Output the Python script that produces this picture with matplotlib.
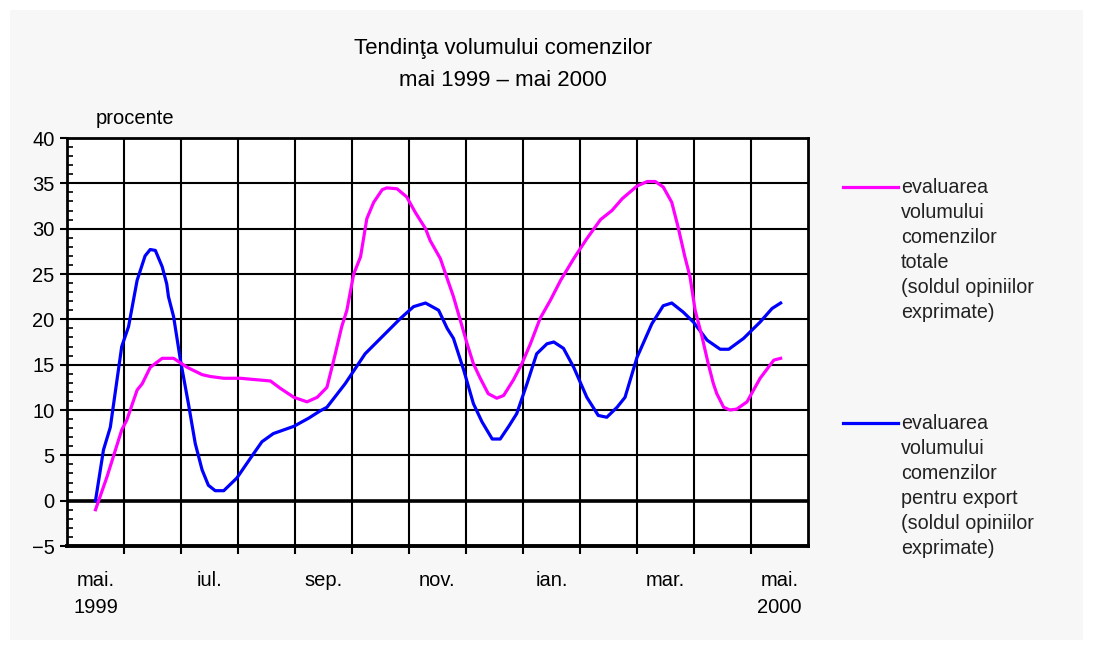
import numpy as np
import matplotlib
matplotlib.use('Agg')
import matplotlib.pyplot as plt
from matplotlib.patches import Rectangle
from matplotlib.lines import Line2D
from matplotlib.ticker import MultipleLocator, FixedLocator

# Data (x in months since mai 1999)
month_labels = ['mai.\n1999', 'iul.', 'sep.', 'nov.', 'ian.', 'mar.', 'mai.\n2000']
month_label_pos = [0, 2, 4, 6, 8, 10, 12]

total_x = [0.0, 0.2, 0.46, 0.55, 0.73, 0.82, 0.96, 1.17, 1.37, 1.61, 1.87, 2.01, 2.25, 2.54,
           3.07, 3.24, 3.48, 3.71, 3.89, 4.06, 4.18, 4.32, 4.41, 4.53, 4.65, 4.76, 4.88,
           5.03, 5.11, 5.29, 5.46, 5.61, 5.79, 5.87, 6.05, 6.17, 6.28, 6.4, 6.52, 6.63,
           6.75, 6.89, 7.04, 7.16, 7.33, 7.48, 7.63, 7.8, 7.98, 8.16, 8.39, 8.62, 8.86,
           9.06, 9.24, 9.5, 9.68, 9.82, 9.96, 10.11, 10.22, 10.34, 10.43, 10.52, 10.64,
           10.75, 10.84, 10.9, 11.02, 11.13, 11.25, 11.43, 11.66, 11.9, 12.02]
total_y = [-1.0, 2.6, 7.8, 8.9, 12.2, 12.9, 14.7, 15.7, 15.7, 14.7, 13.9, 13.7, 13.5, 13.5,
           13.2, 12.4, 11.4, 10.9, 11.4, 12.5, 15.5, 19.2, 21.0, 25.0, 26.9, 31.1, 32.9,
           34.3, 34.5, 34.4, 33.5, 31.8, 30.0, 28.7, 26.7, 24.5, 22.5, 19.9, 17.3, 15.1,
           13.5, 11.8, 11.3, 11.6, 13.3, 15.1, 17.3, 20.1, 22.1, 24.3, 26.7, 28.9, 31.0,
           32.0, 33.3, 34.7, 35.2, 35.2, 34.6, 32.9, 30.2, 26.9, 24.7, 21.0, 18.1,
           15.1, 12.9, 11.8, 10.3, 10.0, 10.1, 10.9, 13.5, 15.5, 15.7]

export_x = [0.0, 0.14, 0.26, 0.46, 0.58, 0.73, 0.87, 0.96, 1.05, 1.17, 1.25, 1.28, 1.37,
            1.49, 1.63, 1.75, 1.87, 1.98, 2.1, 2.25, 2.48, 2.72, 2.92, 3.12, 3.48, 3.74,
            3.94, 4.06, 4.38, 4.73, 5.0, 5.35, 5.58, 5.79, 6.02, 6.17, 6.28, 6.46, 6.63,
            6.78, 6.96, 7.1, 7.25, 7.39, 7.57, 7.74, 7.92, 8.04, 8.21, 8.39, 8.62, 8.82,
            8.97, 9.15, 9.29, 9.5, 9.76, 9.96, 10.11, 10.31, 10.49, 10.73, 10.96, 11.11,
            11.37, 11.66, 11.87, 12.02]
export_y = [0.0, 5.6, 8.1, 17.0, 19.2, 24.3, 27.0, 27.7, 27.6, 25.8, 23.9, 22.5, 20.3,
            15.5, 10.7, 6.3, 3.4, 1.7, 1.1, 1.1, 2.5, 4.7, 6.5, 7.4, 8.2, 9.1,
            9.9, 10.3, 12.9, 16.2, 17.9, 20.1, 21.4, 21.8, 21.0, 19.0, 17.9, 14.4, 10.7,
            8.7, 6.8, 6.8, 8.2, 9.6, 12.9, 16.2, 17.3, 17.5, 16.8, 14.7, 11.4, 9.4,
            9.2, 10.3, 11.4, 15.8, 19.5, 21.5, 21.8, 20.8, 19.7, 17.7, 16.7, 16.7,
            17.9, 19.7, 21.2, 21.8]

label_total = 'evaluarea\nvolumului\ncomenzilor\ntotale\n(soldul opiniilor\nexprimate)'
label_export = 'evaluarea\nvolumului\ncomenzilor\npentru export\n(soldul opiniilor\nexprimate)'

PINK = '#ff00ff'
BLUE = '#0000ff'
plt.rcParams['font.family'] = ['Liberation Sans Narrow', 'Liberation Sans', 'DejaVu Sans']

W, H = 1093, 650
fig = plt.figure(figsize=(W / 100, H / 100), dpi=100)
fig.patch.set_facecolor('white')
fig.add_artist(Rectangle((10 / W, 10 / H), 1073 / W, 630 / H, transform=fig.transFigure,
                         facecolor='#f7f7f7', edgecolor='none', zorder=-10))

ax = fig.add_axes([67 / W, 1 - 546 / H, (808 - 67) / W, (546 - 138) / H])
ax.set_facecolor('white')

ax.plot(export_x, export_y, color=BLUE, lw=2.3, zorder=4, solid_joinstyle='round')
ax.plot(total_x, total_y, color=PINK, lw=2.3, zorder=5, solid_joinstyle='round')
ax.axhline(0, color='black', lw=2.6, zorder=3)

ax.set_xlim(-0.5, 12.5)
ax.set_ylim(-5, 40)

# x axis: labels at month centres, ticks/grid at cell boundaries
ax.xaxis.set_major_locator(FixedLocator(month_label_pos))
ax.set_xticklabels(month_labels, linespacing=1.55)
ax.xaxis.set_minor_locator(FixedLocator(np.arange(0.5, 12.5, 1)))
ax.tick_params(axis='x', which='major', length=0, pad=18, labelsize=14.5)
ax.tick_params(axis='x', which='minor', length=6, width=1.5, direction='out')
ax.grid(True, axis='x', which='minor', color='black', lw=1.5)

# y axis
ax.yaxis.set_major_locator(MultipleLocator(5))
ax.yaxis.set_minor_locator(MultipleLocator(1))
ax.tick_params(axis='y', which='major', length=5, width=1.5, direction='out', labelsize=14.5, pad=4)
ax.tick_params(axis='y', which='minor', length=4, width=1.2, direction='in')
ax.grid(True, axis='y', which='major', color='black', lw=1.5)
ax.set_axisbelow(True)

for side in ['top', 'right', 'left']:
    ax.spines[side].set_linewidth(2)
ax.spines['bottom'].set_linewidth(2.8)

fig.text(503 / W, 1 - 64.5 / H, 'Tendinţa volumului comenzilor\nmai 1999 \u2013 mai 2000',
         ha='center', va='center', fontsize=16, linespacing=1.67)
fig.text(96 / W, 1 - 118 / H, 'procente', ha='left', va='center', fontsize=14.5)

# legend drawn beside the plot
for y_px, color, text in [(187, PINK, label_total), (423, BLUE, label_export)]:
    fig.add_artist(Line2D([843 / W, 898 / W], [1 - y_px / H, 1 - y_px / H],
                          transform=fig.transFigure, color=color, lw=2.3))
    fig.text(901 / W, 1 - (y_px - 9) / H, text, ha='left', va='top', fontsize=14.2,
             linespacing=1.4, color='#222222')

fig.savefig('out.png', dpi=100)
